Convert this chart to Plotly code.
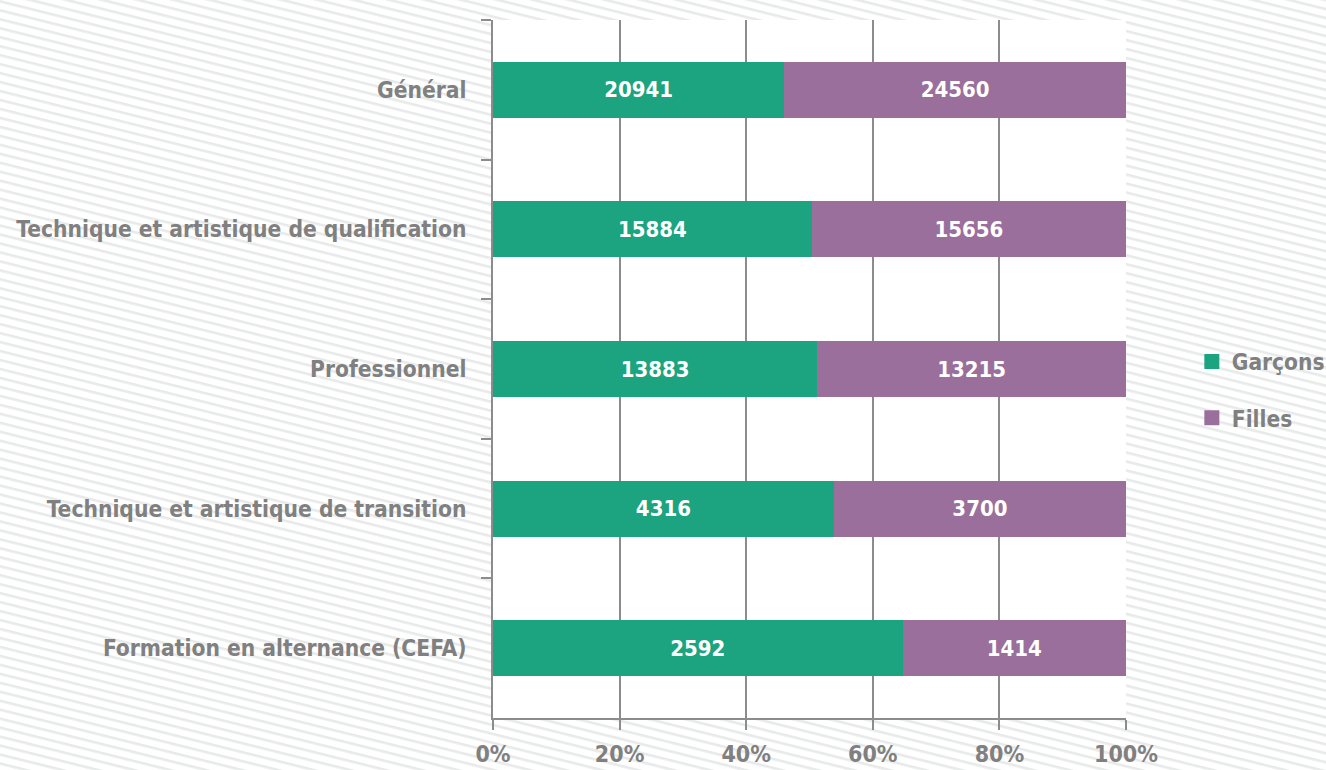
import base64
import plotly.graph_objects as go

categories = [
    "Général",
    "Technique et artistique de qualification",
    "Professionnel",
    "Technique et artistique de transition",
    "Formation en alternance (CEFA)",
]
garcons = [20941, 15884, 13883, 4316, 2592]
filles = [24560, 15656, 13215, 3700, 1414]
series_names = ["Garçons", "Filles"]
x_ticks = [0, 20, 40, 60, 80, 100]
x_tick_labels = ["0%", "20%", "40%", "60%", "80%", "100%"]

GREEN = "#1BA47F"
PURPLE = "#9A6F9B"
GREY = "#808080"
AXIS = "#8c8c8c"
FONT = "Liberation Sans Narrow, DejaVu Sans Condensed, Arial Narrow, sans-serif"

W, H = 1326, 770
L, R, T, B = 493, 200, 20, 52
PW, PH = W - L - R, H - T - B

svg = f'''<svg xmlns="http://www.w3.org/2000/svg" width="{W}" height="{H}">
<defs><pattern id="p" patternUnits="userSpaceOnUse" width="20" height="8.7" patternTransform="rotate(14)">
<rect x="0" y="0" width="20" height="2.6" fill="#e8e9e9"/></pattern></defs>
<rect width="{W}" height="{H}" fill="#ffffff"/>
<rect width="{W}" height="{H}" fill="url(#p)"/>
</svg>'''
uri = "data:image/svg+xml;base64," + base64.b64encode(svg.encode()).decode()

fig = go.Figure()
for name, vals, col, grp in [(series_names[0], garcons, GREEN, "g"),
                             (series_names[1], filles, PURPLE, "f")]:
    fig.add_trace(go.Bar(
        y=categories, x=vals, name=name, orientation="h",
        marker=dict(color=col, line=dict(width=0)),
        text=[str(v) for v in vals], textposition="inside",
        insidetextanchor="middle",
        textfont=dict(color="white", size=22, family=FONT, weight="bold"),
        legendgroup=grp, showlegend=False,
    ))
    fig.add_trace(go.Scatter(
        x=[None], y=[None], mode="markers", name=name,
        marker=dict(symbol="square", size=15, color=col),
        legendgroup=grp, showlegend=True, hoverinfo="skip",
    ))

fig.update_layout(
    width=W, height=H,
    margin=dict(l=L, r=R, t=T, b=B, pad=0, autoexpand=False),
    barmode="stack", barnorm="percent", bargap=0.6,
    paper_bgcolor="white", plot_bgcolor="white",
    font=dict(family=FONT, color=GREY, size=23, weight="bold"),
    showlegend=True,
    legend=dict(
        x=1.104, xanchor="left", y=0.47, yanchor="middle",
        bgcolor="rgba(0,0,0,0)", traceorder="grouped", tracegroupgap=24,
        font=dict(size=22.5, color=GREY, family=FONT, weight="bold"),
        itemwidth=30,
    ),
    images=[dict(
        source=uri, xref="paper", yref="paper",
        x=-L / PW, y=1 + T / PH, sizex=W / PW, sizey=H / PH,
        xanchor="left", yanchor="top", sizing="stretch", layer="below",
    )],
    shapes=[dict(
        type="rect", xref="paper", yref="paper", x0=0, x1=1, y0=0, y1=1,
        fillcolor="white", line=dict(width=0), layer="below",
    )],
)
fig.update_xaxes(
    range=[0, 100], tickvals=x_ticks, ticktext=x_tick_labels,
    showgrid=True, gridcolor=AXIS, gridwidth=2,
    showline=True, linecolor=AXIS, linewidth=2,
    ticks="outside", ticklen=10, tickwidth=2, tickcolor=AXIS,
    tickfont=dict(size=23),
    ticklabelstandoff=4, zeroline=False, fixedrange=True, automargin=False,
)
fig.update_yaxes(
    categoryorder="array", categoryarray=categories, autorange="reversed",
    showline=True, linecolor=AXIS, linewidth=2,
    ticks="outside", ticklen=10, tickwidth=2, tickcolor=AXIS,
    tickfont=dict(size=22.6),
    tickson="boundaries", ticklabelstandoff=20, showgrid=False,
    zeroline=False, fixedrange=True, automargin=False,
)

fig.write_html(
    "out.html",
    config={"displayModeBar": False},
    post_script="document.body.style.margin='0';document.body.style.overflow='hidden';",
)
